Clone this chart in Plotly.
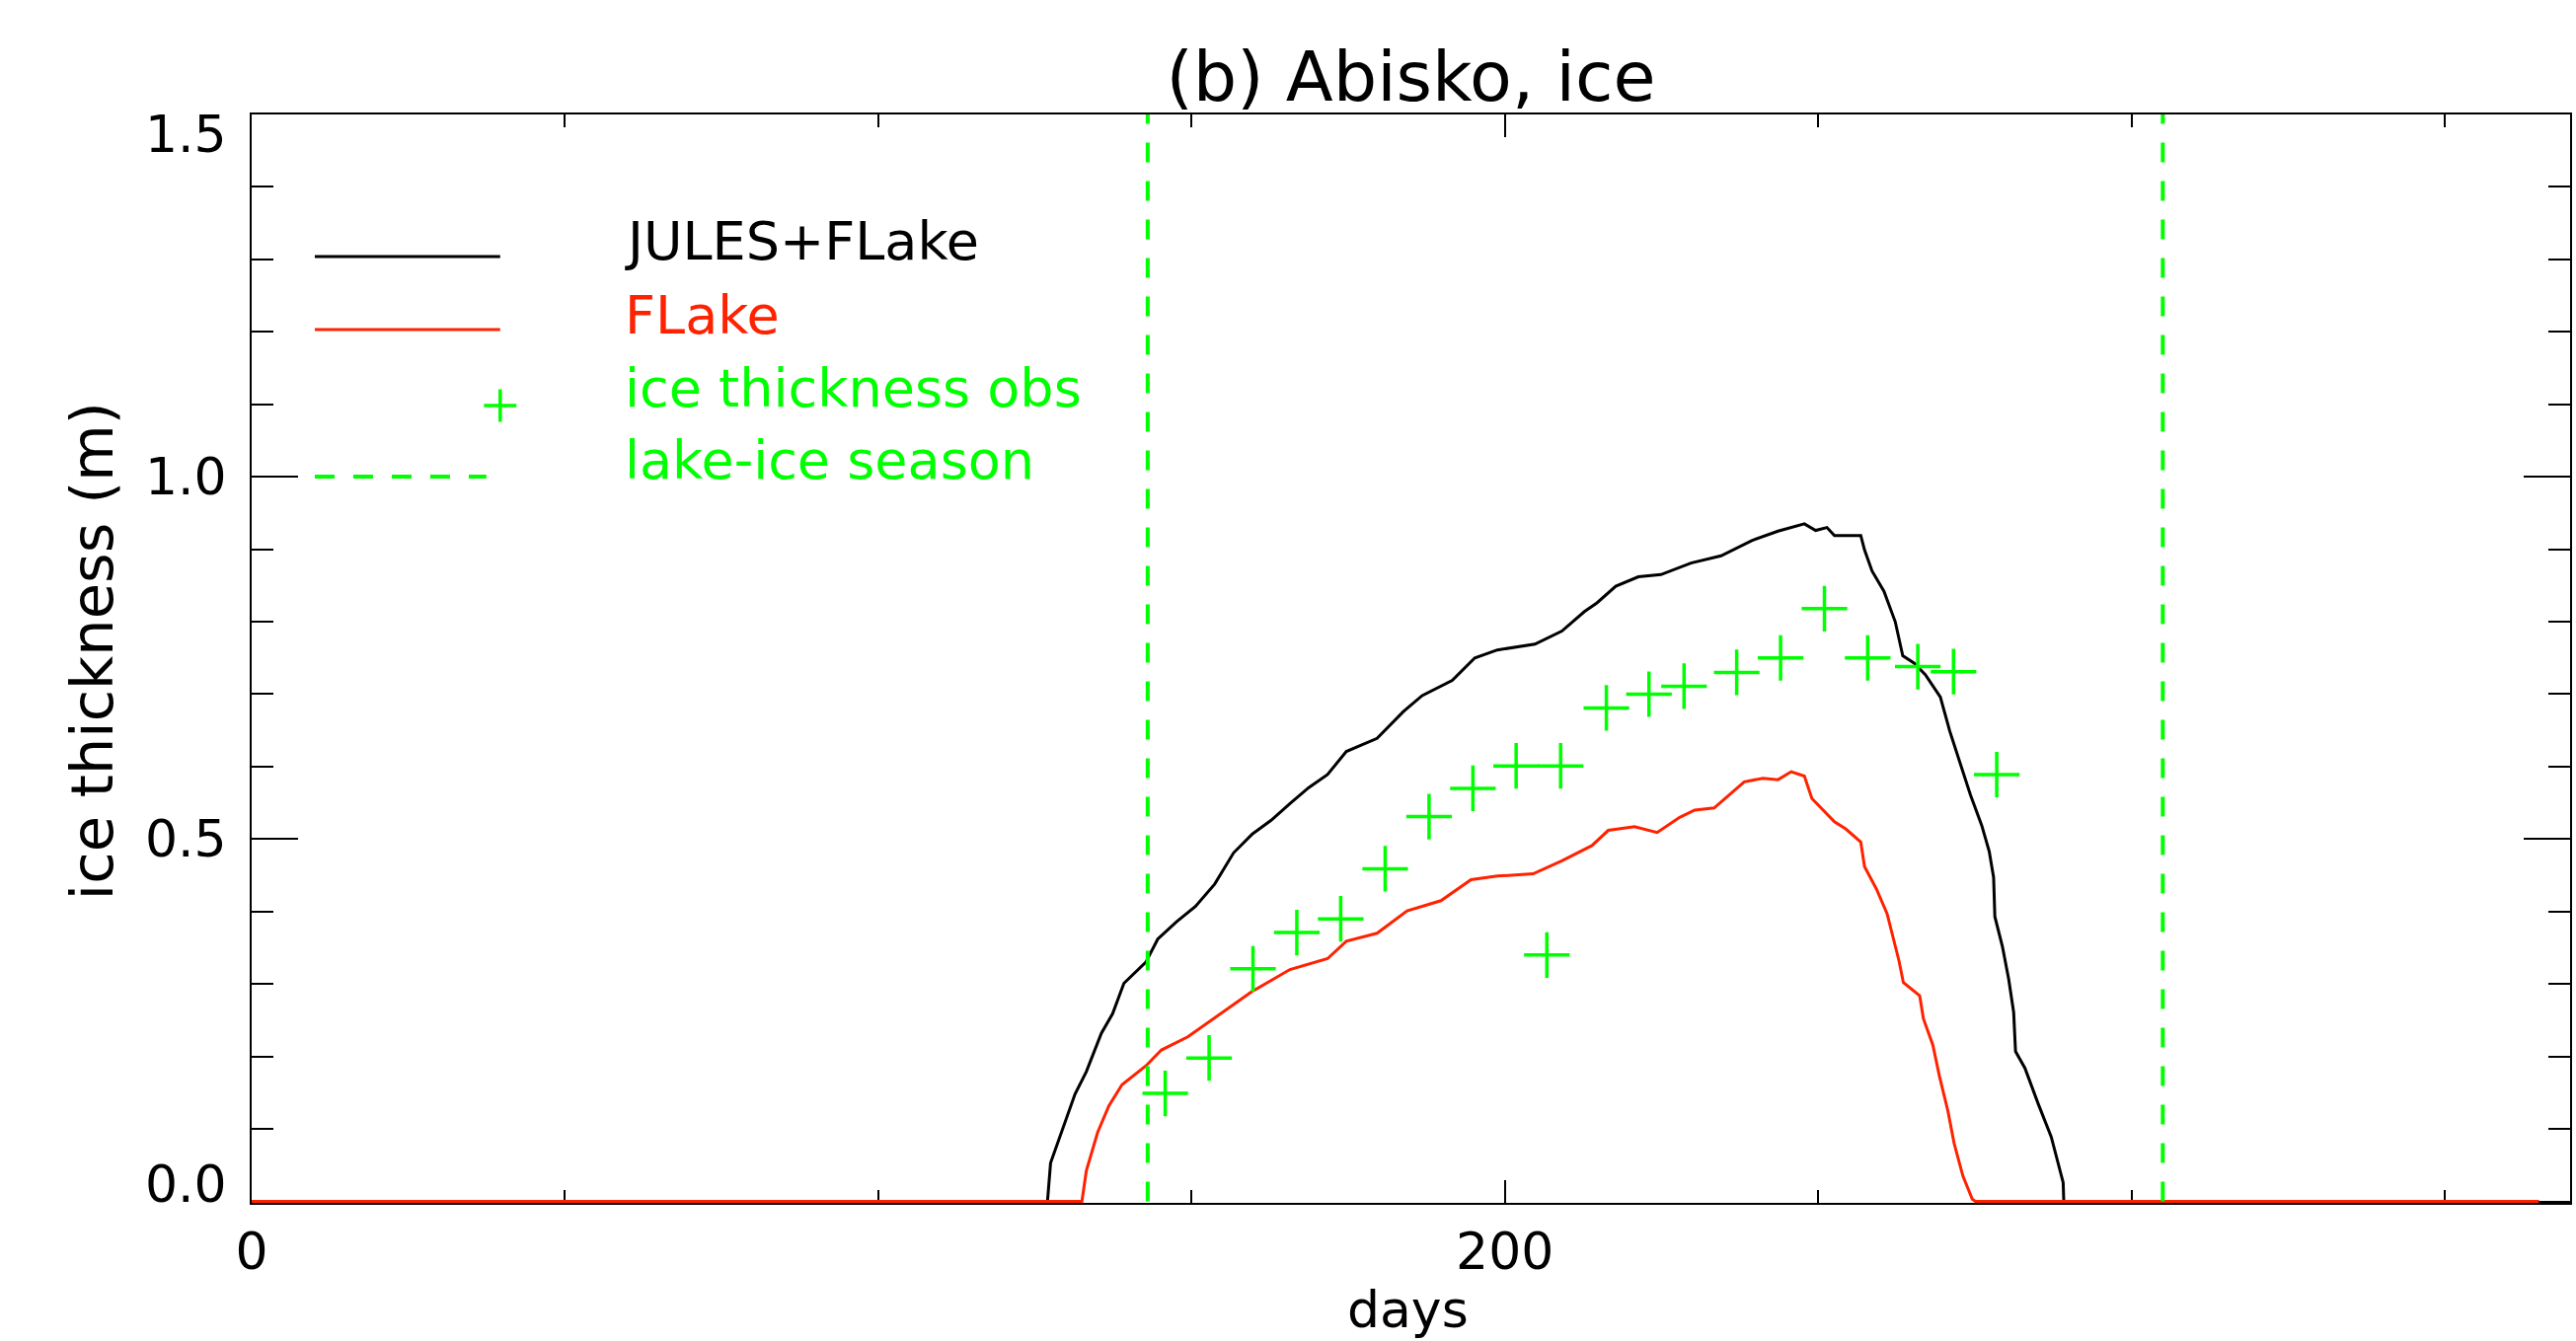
import plotly.graph_objects as go

# ---------------- data ----------------
jules_days = [0, 127.0, 127.5, 129.6, 131.4, 133.2, 135.6, 137.4, 139.2, 142.7, 144.6,
              147.6, 150.6, 153.7, 156.7, 159.7, 162.7, 165.7, 168.7, 171.7, 174.7,
              179.6, 183.8, 186.8, 191.6, 195.2, 198.8, 204.8, 209.1, 212.7, 214.7,
              217.7, 221.3, 224.9, 229.7, 234.5, 239.4, 243.6, 247.8, 249.6, 251.4,
              252.6, 256.8, 257.4, 258.6, 260.5, 262.3, 263.5, 265.3, 267.1, 269.5,
              271.0, 272.5, 274.3, 276.1, 277.3, 278.0, 278.2, 279.4, 280.4, 281.2,
              281.5, 283.0, 285.1, 287.2, 288.3, 289.1, 289.2, 365]
jules_ice = [0, 0, 0.053, 0.105, 0.148, 0.179, 0.232, 0.259, 0.301, 0.330, 0.362,
             0.386, 0.407, 0.438, 0.481, 0.507, 0.526, 0.549, 0.571, 0.589, 0.621,
             0.639, 0.676, 0.698, 0.719, 0.750, 0.761, 0.769, 0.787, 0.814, 0.826,
             0.849, 0.862, 0.865, 0.881, 0.891, 0.912, 0.925, 0.935, 0.926, 0.930,
             0.919, 0.919, 0.899, 0.870, 0.842, 0.800, 0.753, 0.743, 0.727, 0.696,
             0.649, 0.608, 0.561, 0.519, 0.483, 0.447, 0.393, 0.352, 0.307, 0.261,
             0.207, 0.184, 0.135, 0.089, 0.053, 0.026, 0.0, 0]

flake_days = [0, 132.5, 133.2, 135.0, 136.8, 138.9, 142.7, 145.2, 149.4, 153.7, 159.7,
              165.7, 171.7, 174.7, 179.6, 184.4, 189.8, 194.6, 198.8, 204.5, 209.1,
              213.9, 216.5, 220.7, 224.3, 227.9, 230.3, 233.4, 238.2, 241.2, 243.6,
              245.7, 247.8, 249.0, 252.6, 254.4, 256.8, 257.4, 259.3, 261.0, 261.7,
              262.9, 263.6, 266.2, 266.8, 268.3, 269.4, 270.7, 271.7, 273.1, 274.6,
              275.1, 365]
flake_ice = [0, 0, 0.042, 0.095, 0.132, 0.161, 0.187, 0.209, 0.227, 0.253, 0.290,
             0.320, 0.335, 0.359, 0.370, 0.401, 0.415, 0.444, 0.449, 0.452, 0.470,
             0.491, 0.512, 0.517, 0.509, 0.530, 0.540, 0.543, 0.579, 0.584, 0.582,
             0.593, 0.587, 0.556, 0.524, 0.514, 0.496, 0.462, 0.431, 0.397, 0.374,
             0.332, 0.302, 0.284, 0.252, 0.216, 0.171, 0.125, 0.080, 0.035, 0.003,
             0, 0]

obs_days = [145.8, 152.8, 159.8, 166.8, 173.8, 180.9, 187.9, 194.9, 201.8, 206.7,
            208.9, 216.2, 223.0, 228.6, 237.0, 244.0, 251.0, 257.9, 265.9, 271.6, 278.5]
obs_ice = [0.149, 0.198, 0.321, 0.371, 0.390, 0.459, 0.531, 0.570, 0.601, 0.340,
           0.601, 0.681, 0.700, 0.711, 0.730, 0.750, 0.818, 0.750, 0.738, 0.731, 0.589]

season_bounds = [143, 305]

x_tick_vals = [0, 200]
x_tick_labels = ["0", "200"]
y_tick_vals = [0.0, 0.5, 1.0, 1.5]
y_tick_labels = ["0.0", "0.5", "1.0", "1.5"]

title_text = "(b) Abisko, ice"
x_title = "days"
y_title = "ice thickness (m)"
legend_labels = ["JULES+FLake", "FLake", "ice thickness obs", "lake-ice season"]

# ---------------- styling ----------------
BLACK = "#000000"
RED = "#ff2200"
GREEN = "#00ff00"
FONT = "DejaVu Sans"
DASH = "20px,19px"

W, H = 2610, 1359
L, R, T, B = 255, 2606, 116, 1219


def px_x(px):
    return (px - L) / (R - L)


def px_y(py):
    return (B - py) / (B - T)


fig = go.Figure()

fig.add_trace(go.Scatter(x=jules_days, y=jules_ice, mode="lines",
                         line=dict(color=BLACK, width=3), name=legend_labels[0]))
fig.add_trace(go.Scatter(x=flake_days, y=flake_ice, mode="lines",
                         line=dict(color=RED, width=3), name=legend_labels[1]))
fig.add_trace(go.Scatter(x=obs_days, y=obs_ice, mode="markers", name=legend_labels[2],
                         marker=dict(symbol="cross-thin", size=33, color=GREEN,
                                     line=dict(color=GREEN, width=3.5))))
for d in season_bounds:
    fig.add_trace(go.Scatter(x=[d, d], y=[0, 1.5], mode="lines", name=legend_labels[3],
                             line=dict(color=GREEN, width=4, dash=DASH)))

axis_common = dict(showline=True, linecolor=BLACK, linewidth=2, mirror="ticks",
                   showgrid=False, zeroline=False, ticks="inside", tickcolor=BLACK,
                   tickwidth=2, layer="below traces")

fig.update_xaxes(range=[0, 370], tickmode="array", tickvals=x_tick_vals,
                 ticktext=x_tick_labels, ticklen=23,
                 tickfont=dict(family=FONT, size=52, color=BLACK),
                 ticklabelstandoff=3,
                 minor=dict(ticks="inside", dtick=50, tick0=0, ticklen=13,
                            tickwidth=2, tickcolor=BLACK, showgrid=False),
                 **axis_common)
fig.update_yaxes(range=[-0.002, 1.5], tickmode="array", tickvals=y_tick_vals,
                 showticklabels=False, ticklen=47,
                 minor=dict(ticks="inside", dtick=0.1, tick0=0, ticklen=22,
                            tickwidth=2, tickcolor=BLACK, showgrid=False),
                 **axis_common)

annotations = []
# y tick labels (kept inside the axis span at the ends, as in the reference)
ymax, ymin = max(y_tick_vals), min(y_tick_vals)
for v, lab in zip(y_tick_vals, y_tick_labels):
    shift = -20 if v == ymax else (18 if v == ymin else 0)
    annotations.append(dict(text=lab, x=px_x(232), xref="paper", xanchor="right",
                            y=v, yref="y", yanchor="middle", yshift=shift,
                            showarrow=False, font=dict(family=FONT, size=52, color=BLACK)))
# axis titles
annotations.append(dict(text=x_title, x=px_x(1427), xref="paper", xanchor="center",
                        y=px_y(1327), yref="paper", yanchor="middle", showarrow=False,
                        font=dict(family=FONT, size=52, color=BLACK)))
annotations.append(dict(text=y_title, x=px_x(93), xref="paper", xanchor="center",
                        y=px_y(660), yref="paper", yanchor="middle", showarrow=False,
                        textangle=-90, font=dict(family=FONT, size=59, color=BLACK)))
# legend texts
legend_colors = [BLACK, RED, GREEN, GREEN]
legend_text_y = [244, 319, 393, 466]
for lab, col, yy in zip(legend_labels, legend_colors, legend_text_y):
    annotations.append(dict(text=lab, x=px_x(631), xref="paper", xanchor="left",
                            y=px_y(yy), yref="paper", yanchor="middle", showarrow=False,
                            font=dict(family=FONT, size=54, color=col)))

shapes = []
# legend keys
shapes.append(dict(type="line", xref="paper", yref="paper", x0=px_x(319), x1=px_x(507),
                   y0=px_y(260), y1=px_y(260), line=dict(color=BLACK, width=3)))
shapes.append(dict(type="line", xref="paper", yref="paper", x0=px_x(319), x1=px_x(507),
                   y0=px_y(334), y1=px_y(334), line=dict(color=RED, width=3)))
shapes.append(dict(type="line", xref="paper", yref="paper", x0=px_x(507 - 16.5),
                   x1=px_x(507 + 16.5), y0=px_y(411), y1=px_y(411),
                   line=dict(color=GREEN, width=3.5)))
shapes.append(dict(type="line", xref="paper", yref="paper", x0=px_x(507), x1=px_x(507),
                   y0=px_y(411 - 16.5), y1=px_y(411 + 16.5),
                   line=dict(color=GREEN, width=3.5)))
shapes.append(dict(type="line", xref="paper", yref="paper", x0=px_x(319), x1=px_x(493),
                   y0=px_y(483), y1=px_y(483), line=dict(color=GREEN, width=4, dash=DASH)))

fig.update_layout(
    width=W, height=H, autosize=False,
    margin=dict(l=L, r=W - R, t=T, b=H - B, pad=0),
    paper_bgcolor="white", plot_bgcolor="white",
    showlegend=False,
    font=dict(family=FONT, color=BLACK),
    title=dict(text=title_text, x=0.5, xref="paper", xanchor="center",
               y=1 - 77 / H, yref="container", yanchor="middle",
               font=dict(family=FONT, size=70, color=BLACK)),
    annotations=annotations,
    shapes=shapes,
)

fig.write_html("out.html",
               config={"displayModeBar": False},
               post_script="document.body.style.margin='0px';"
                           "document.body.style.overflow='hidden';")
